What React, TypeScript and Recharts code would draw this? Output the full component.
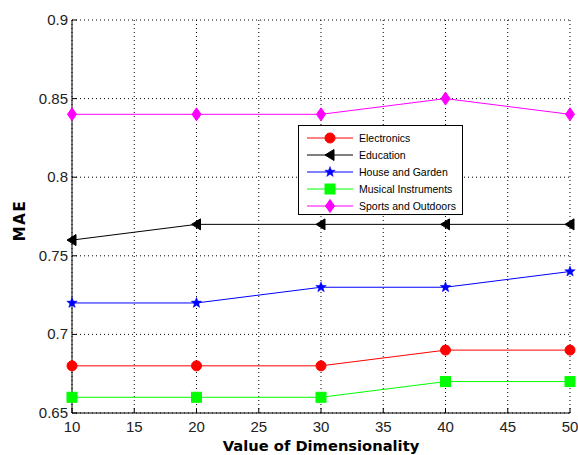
import React from "react"
import { LineChart, Line, XAxis, YAxis, CartesianGrid, Legend } from "recharts"

const dims = [10, 20, 30, 40, 50]
const electronics = [0.68, 0.68, 0.68, 0.69, 0.69]
const education = [0.76, 0.77, 0.77, 0.77, 0.77]
const houseGarden = [0.72, 0.72, 0.73, 0.73, 0.74]
const musical = [0.66, 0.66, 0.66, 0.67, 0.67]
const sports = [0.84, 0.84, 0.84, 0.85, 0.84]

const xTicks = [10, 15, 20, 25, 30, 35, 40, 45, 50]
const yTicks = [0.65, 0.7, 0.75, 0.8, 0.85, 0.9]

const data = dims.map((d, i) => ({
  dim: d,
  electronics: electronics[i],
  education: education[i],
  houseGarden: houseGarden[i],
  musical: musical[i],
  sports: sports[i],
}))

type MarkerKind = "circle" | "triangle" | "star" | "square" | "diamond"

const series: { key: string; name: string; color: string; marker: MarkerKind }[] = [
  { key: "electronics", name: "Electronics", color: "#ff0000", marker: "circle" },
  { key: "education", name: "Education", color: "#000000", marker: "triangle" },
  { key: "houseGarden", name: "House and Garden", color: "#0000ff", marker: "star" },
  { key: "musical", name: "Musical Instruments", color: "#00ff00", marker: "square" },
  { key: "sports", name: "Sports and Outdoors", color: "#ff00ff", marker: "diamond" },
]

const FONT = "'Liberation Sans', Arial, Helvetica, sans-serif"
const BOLD_FONT = "'DejaVu Sans', Verdana, sans-serif"

const starPoints = (cx: number, cy: number, r: number) => {
  const pts: string[] = []
  for (let i = 0; i < 10; i++) {
    const rad = i % 2 === 0 ? r : r * 0.42
    const a = -Math.PI / 2 + (i * Math.PI) / 5
    pts.push(`${cx + rad * Math.cos(a)},${cy + rad * Math.sin(a)}`)
  }
  return pts.join(" ")
}

const Marker = ({ kind, cx, cy, color }: { kind: MarkerKind; cx: number; cy: number; color: string }) => {
  switch (kind) {
    case "circle":
      return <circle cx={cx} cy={cy} r={5} fill={color} stroke={color} />
    case "triangle":
      return (
        <polygon
          points={`${cx - 5},${cy} ${cx + 4},${cy - 5.5} ${cx + 4},${cy + 5.5}`}
          fill={color}
          stroke={color}
        />
      )
    case "star":
      return <polygon points={starPoints(cx, cy, 5.5)} fill={color} stroke={color} strokeWidth={0.5} />
    case "square":
      return <rect x={cx - 5} y={cy - 5} width={10} height={10} fill={color} stroke={color} />
    case "diamond":
      return (
        <polygon
          points={`${cx},${cy - 6.5} ${cx + 4.5},${cy} ${cx},${cy + 6.5} ${cx - 4.5},${cy}`}
          fill={color}
          stroke={color}
        />
      )
  }
}

// MATLAB-style ticks: short marks pointing into the plot, label outside
const XTick = (props: any) => {
  const { x, y, payload } = props
  const axisY = y - 8
  return (
    <g>
      <line x1={x} y1={axisY} x2={x} y2={axisY - 5} stroke="#000" />
      <text x={x} y={y + 11} textAnchor="middle" fontSize={15} fontFamily={FONT} fill="#222">
        {payload.value}
      </text>
    </g>
  )
}

const YTick = (props: any) => {
  const { x, y, payload } = props
  const axisX = x + 4
  return (
    <g>
      <line x1={axisX} y1={y} x2={axisX + 5} y2={y} stroke="#000" />
      <text x={x} y={y + 5} textAnchor="end" fontSize={15} fontFamily={FONT} fill="#222">
        {payload.value}
      </text>
    </g>
  )
}

const XTitle = (p: any) => {
  const vb = p.viewBox
  return (
    <text
      x={vb.x + vb.width / 2}
      y={vb.y + vb.height - 4}
      textAnchor="middle"
      fontSize={14.7}
      fontWeight="bold"
      fontFamily={BOLD_FONT}
      fill="#000"
    >
      Value of Dimensionality
    </text>
  )
}

const YTitle = (p: any) => {
  const vb = p.viewBox
  const cx = vb.x + 20
  const cy = vb.y + vb.height / 2 + 4
  return (
    <text
      x={cx}
      y={cy}
      transform={`rotate(-90 ${cx} ${cy})`}
      textAnchor="middle"
      dominantBaseline="central"
      fontSize={15}
      fontWeight="bold"
      letterSpacing={1.5}
      fontFamily={BOLD_FONT}
      fill="#000"
    >
      MAE
    </text>
  )
}

const LegendBox = () => (
  <div
    style={{
      width: 165,
      height: 90,
      border: "1px solid #000",
      background: "#fff",
      boxSizing: "border-box",
      paddingTop: 3,
    }}
  >
    {series.map((s) => (
      <div key={s.key} style={{ display: "flex", alignItems: "center", height: 17.2 }}>
        <svg width={58} height={14} style={{ flex: "none" }}>
          <line x1={8} y1={7} x2={54} y2={7} stroke={s.color} strokeWidth={1} />
          <Marker kind={s.marker} cx={31} cy={7} color={s.color} />
        </svg>
        <span style={{ fontFamily: FONT, fontSize: 10.5, color: "#000", whiteSpace: "nowrap", marginLeft: 2 }}>
          {s.name}
        </span>
      </div>
    ))}
  </div>
)

export default function App() {
  return (
    <div style={{ position: "absolute", left: 0, top: 0, width: 578, height: 455, background: "#fff" }}>
      <LineChart width={578} height={455} data={data} margin={{ top: 20, right: 8, bottom: 0, left: 0 }}>
        <CartesianGrid stroke="#000" strokeDasharray="1 3" />
        <XAxis
          dataKey="dim"
          type="number"
          domain={[10, 50]}
          ticks={xTicks}
          height={42}
          tickSize={0}
          tickMargin={8}
          tick={<XTick />}
          axisLine={{ stroke: "#000" }}
          label={{ content: XTitle }}
        />
        <YAxis
          type="number"
          domain={[0.65, 0.9]}
          ticks={yTicks}
          width={72}
          tickSize={0}
          tickMargin={4}
          tick={<YTick />}
          axisLine={{ stroke: "#000" }}
          label={{ content: YTitle }}
        />
        <Legend
          layout="vertical"
          align="center"
          verticalAlign="middle"
          content={<LegendBox />}
          wrapperStyle={{ position: "absolute", left: 298, top: 125, width: 165 }}
        />
        {series.map((s) => (
          <Line
            key={s.key}
            type="linear"
            dataKey={s.key}
            name={s.name}
            stroke={s.color}
            strokeWidth={1}
            isAnimationActive={false}
            dot={(p: any) => <Marker key={`${s.key}-${p.index}`} kind={s.marker} cx={p.cx} cy={p.cy} color={s.color} />}
            activeDot={false}
          />
        ))}
      </LineChart>
    </div>
  )
}
